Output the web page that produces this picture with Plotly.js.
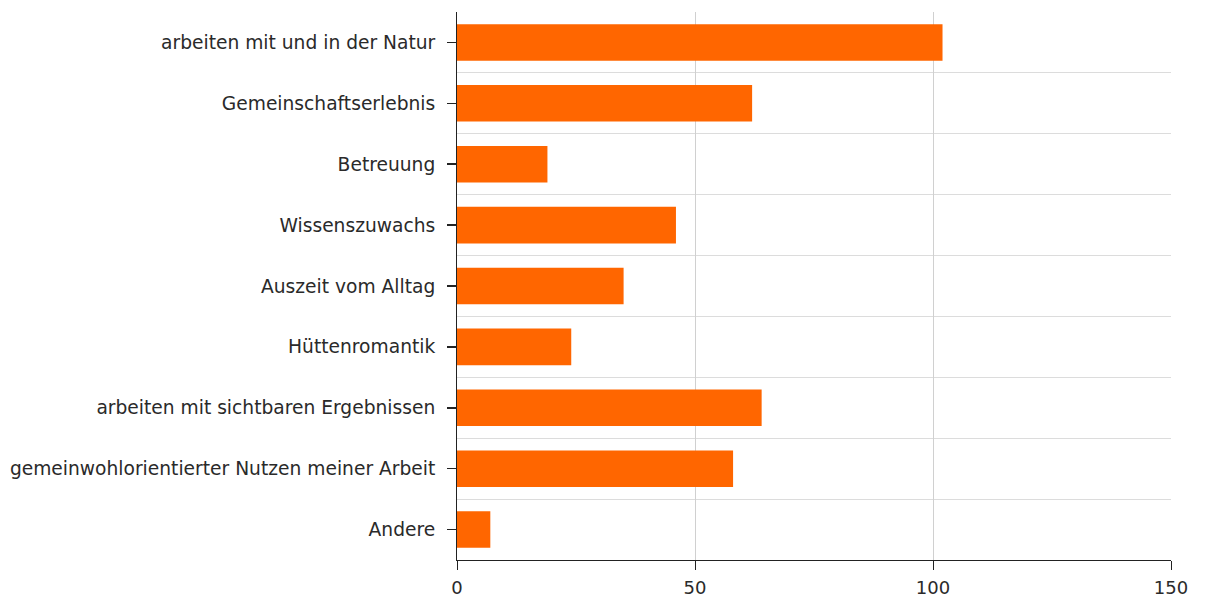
<!DOCTYPE html>
<html>
<head>
<meta charset="utf-8">
<script src="https://cdn.plot.ly/plotly-3.0.1.min.js"></script>
<style>html,body{margin:0;padding:0;background:#fff;}#chart{width:1206px;height:601px;}</style>
</head>
<body>
<div id="chart"></div>
<script>
const categories = [
  "arbeiten mit und in der Natur",
  "Gemeinschaftserlebnis",
  "Betreuung",
  "Wissenszuwachs",
  "Auszeit vom Alltag",
  "Hüttenromantik",
  "arbeiten mit sichtbaren Ergebnissen",
  "gemeinwohlorientierter Nutzen meiner Arbeit",
  "Andere"
];
const values = [102, 62, 19, 46, 35, 24, 64, 58, 7];
const xTicks = [0, 50, 100, 150];

const positions = categories.map((c, i) => i);

const trace = {
  type: "bar",
  orientation: "h",
  x: values,
  y: positions,
  width: 0.6,
  marker: {color: "#ff6600", line: {width: 0}},
  hoverinfo: "x+text",
  text: categories,
  textposition: "none"
};

const layout = {
  width: 1206,
  height: 601,
  margin: {l: 457, r: 35, t: 12, b: 41},
  paper_bgcolor: "#ffffff",
  plot_bgcolor: "#ffffff",
  showlegend: false,
  font: {family: "DejaVu Sans", size: 18.67, color: "#2a2a2a"},
  xaxis: {
    range: [0, 150],
    tickvals: xTicks,
    ticktext: xTicks.map(String),
    ticks: "outside",
    ticklen: 9,
    tickcolor: "#222222",
    showline: true,
    linecolor: "#222222",
    linewidth: 1,
    showgrid: true,
    gridcolor: "#d0d0d0",
    zeroline: false,
    ticklabelstandoff: 2,
    tickfont: {family: "DejaVu Sans", size: 18, color: "#2a2a2a"}
  },
  yaxis: {
    range: [categories.length - 0.5, -0.5],
    tickvals: positions,
    ticktext: categories,
    ticks: "outside",
    ticklen: 9,
    tickwidth: 1.5,
    tickcolor: "#222222",
    showline: true,
    linecolor: "#222222",
    linewidth: 1,
    showgrid: false,
    zeroline: false,
    ticklabelstandoff: 8,
    minor: {tick0: 0.5, dtick: 1, showgrid: true, gridcolor: "#dcdcdc", ticks: "", ticklen: 0},
    tickfont: {family: "DejaVu Sans", size: 18.67, color: "#2a2a2a"}
  }
};

Plotly.newPlot("chart", [trace], layout, {displayModeBar: false, staticPlot: true});
</script>
</body>
</html>
